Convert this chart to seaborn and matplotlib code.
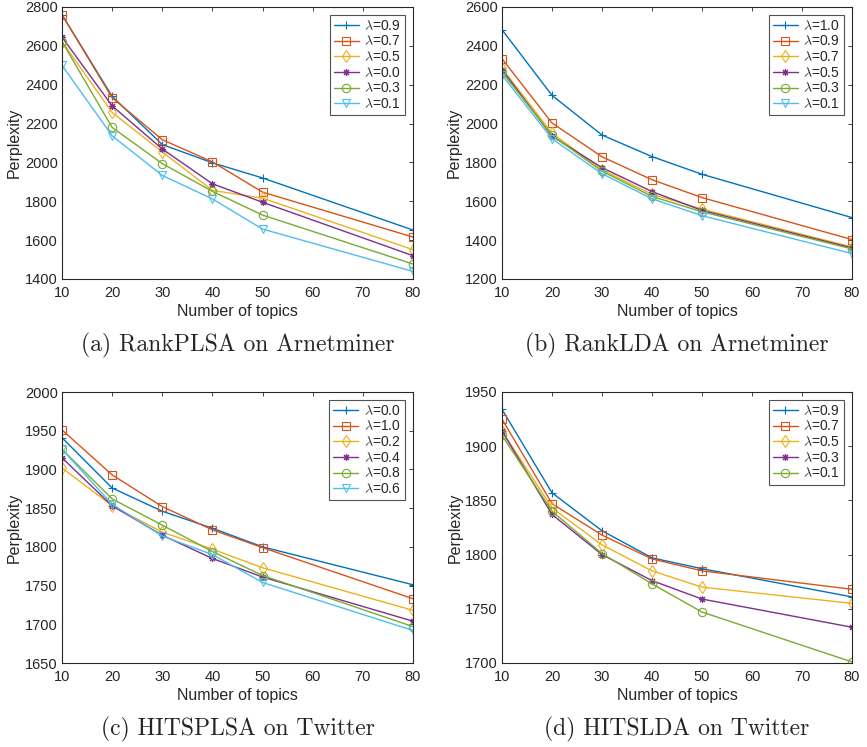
import matplotlib
matplotlib.use("Agg")
import matplotlib.pyplot as plt
import seaborn as sns

# x positions (number of topics)
topics = [10, 20, 30, 40, 50, 80]

# (a) RankPLSA on Arnetminer
a_labels = ["0.9", "0.7", "0.5", "0.0", "0.3", "0.1"]
a_09 = [2760, 2340, 2092, 1998, 1920, 1652]
a_07 = [2760, 2333, 2117, 2003, 1847, 1616]
a_05 = [2622, 2257, 2054, 1856, 1816, 1551]
a_00 = [2645, 2291, 2069, 1890, 1795, 1520]
a_03 = [2622, 2180, 1994, 1851, 1729, 1477]
a_01 = [2500, 2137, 1933, 1812, 1657, 1439]

# (b) RankLDA on Arnetminer
b_labels = ["1.0", "0.9", "0.7", "0.5", "0.3", "0.1"]
b_10 = [2483, 2145, 1941, 1830, 1739, 1516]
b_09 = [2334, 2003, 1829, 1711, 1619, 1403]
b_07 = [2285, 1950, 1762, 1636, 1560, 1365]
b_05 = [2278, 1935, 1773, 1650, 1553, 1360]
b_03 = [2265, 1940, 1755, 1625, 1546, 1355]
b_01 = [2250, 1922, 1742, 1613, 1526, 1331]

# (c) HITSPLSA on Twitter
c_labels = ["0.0", "1.0", "0.2", "0.4", "0.8", "0.6"]
c_00 = [1941, 1876, 1846, 1824, 1800, 1751]
c_10 = [1951, 1893, 1852, 1822, 1799, 1733]
c_02 = [1902, 1853, 1819, 1797, 1773, 1718]
c_04 = [1915, 1853, 1815, 1785, 1761, 1704]
c_08 = [1926, 1862, 1828, 1794, 1763, 1697]
c_06 = [1926, 1855, 1814, 1790, 1754, 1692]

# (d) HITSLDA on Twitter
d_labels = ["0.9", "0.7", "0.5", "0.3", "0.1"]
d_09 = [1934, 1857, 1822, 1797, 1787, 1761]
d_07 = [1925, 1847, 1818, 1796, 1785, 1768]
d_05 = [1914, 1843, 1809, 1785, 1770, 1755]
d_03 = [1914, 1837, 1800, 1776, 1759, 1733]
d_01 = [1910, 1840, 1801, 1773, 1747, 1701]

captions = ["(a) RankPLSA on Arnetminer", "(b) RankLDA on Arnetminer",
            "(c) HITSPLSA on Twitter", "(d) HITSLDA on Twitter"]

# MATLAB default colour order and markers
colors = ["#0072BD", "#D95319", "#EDB120", "#7E2F8E", "#77AC30", "#4DBEEE"]
markers = ["+", "s", "d", (8, 2, 0), "o", "v"]

sns.set_style("white")
plt.rcParams["font.family"] = ["Liberation Sans", "DejaVu Sans"]
plt.rcParams["mathtext.fontset"] = "cm"
plt.rcParams.update({
    "xtick.direction": "in", "ytick.direction": "in",
    "xtick.top": True, "ytick.right": True,
    "xtick.major.size": 3, "ytick.major.size": 3,
    "xtick.major.width": 0.6, "ytick.major.width": 0.6,
    "xtick.labelsize": 10.5, "ytick.labelsize": 10.5,
    "axes.edgecolor": "#262626", "axes.linewidth": 0.8,
})

fig = plt.figure(figsize=(8.67, 7.47), dpi=100)
W, H = 867, 747

def px_axes(left, top, right, bottom):
    return fig.add_axes([left / W, 1 - bottom / H, (right - left) / W, (bottom - top) / H])

panels = [
    (px_axes(62, 7, 413, 279), [a_09, a_07, a_05, a_00, a_03, a_01], a_labels,
     (1400, 2800), range(1400, 2801, 200)),
    (px_axes(502, 7, 852, 279), [b_10, b_09, b_07, b_05, b_03, b_01], b_labels,
     (1200, 2600), range(1200, 2601, 200)),
    (px_axes(62, 392, 413, 663), [c_00, c_10, c_02, c_04, c_08, c_06], c_labels,
     (1650, 2000), range(1650, 2001, 50)),
    (px_axes(502, 392, 852, 663), [d_09, d_07, d_05, d_03, d_01], d_labels,
     (1700, 1950), range(1700, 1951, 50)),
]

for i, (ax, series, labels, ylim, yticks) in enumerate(panels):
    for j, (vals, lab) in enumerate(zip(series, labels)):
        c = colors[j]
        ms = 5 if j == 3 else 6
        sns.lineplot(x=topics, y=vals, ax=ax, color=c, marker=markers[j],
                     markersize=ms, mfc="none", mec=c, mew=0.8, linewidth=1.0,
                     label=r"$\lambda$=" + lab)
    ax.set_xlim(10, 80)
    ax.set_xticks(range(10, 81, 10))
    ax.set_ylim(*ylim)
    ax.set_yticks(list(yticks))
    ax.tick_params(axis="x", pad=5, colors="#262626")
    ax.tick_params(axis="y", pad=3, colors="#262626")
    ax.set_xlabel("Number of topics", fontsize=11.5, labelpad=3)
    ax.set_ylabel("Perplexity", fontsize=11.5, labelpad=2)
    leg = ax.legend(loc="upper right", fontsize=10, frameon=True, fancybox=False,
                    edgecolor="#262626", borderpad=0.3, labelspacing=0.12,
                    handlelength=1.8, handletextpad=0.4, borderaxespad=0.55)
    leg.get_frame().set_linewidth(0.8)
    for sp in ax.spines.values():
        sp.set_visible(True)
    # caption under each panel
    pos = ax.get_position()
    fig.text(pos.x0 + pos.width / 2, pos.y0 - 66 / H, captions[i],
             ha="center", va="center", fontsize=17, family="cmr10")

fig.savefig("out.png", dpi=100)
